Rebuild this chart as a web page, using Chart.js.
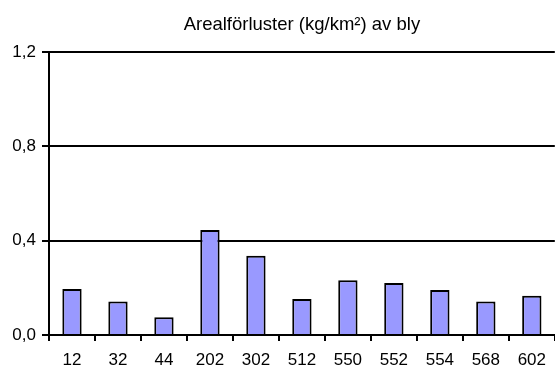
<!DOCTYPE html>
<html>
<head>
<meta charset="utf-8">
<script src="https://cdn.jsdelivr.net/npm/chart.js@4/dist/chart.umd.min.js"></script>
<style>
  html, body { margin: 0; padding: 0; background: #ffffff; }
  #wrap { width: 555px; height: 369px; }
</style>
</head>
<body>
<div id="wrap"><canvas id="c" width="555" height="369"></canvas></div>
<script>
// Areal losses of lead per catchment area
const stations = ['12', '32', '44', '202', '302', '512', '550', '552', '554', '568', '602'];
const leadLoss = [0.195, 0.142, 0.075, 0.445, 0.336, 0.153, 0.232, 0.220, 0.191, 0.142, 0.166];
const yTicks = [0, 0.4, 0.8, 1.2];
const titleText = 'Arealförluster (kg/km²) av bly';

const FONT = '"Liberation Sans", Arial, sans-serif';

// Title centred over the plot area
const titlePlugin = {
  id: 'topTitle',
  afterDraw(chart) {
    const ctx = chart.ctx;
    const a = chart.chartArea;
    ctx.save();
    ctx.fillStyle = '#000';
    ctx.font = '18.5px ' + FONT;
    ctx.textAlign = 'center';
    ctx.textBaseline = 'alphabetic';
    ctx.fillText(titleText, (a.left + a.right) / 2, 30);
    ctx.restore();
  }
};

new Chart(document.getElementById('c'), {
  type: 'bar',
  data: {
    labels: stations,
    datasets: [{
      data: leadLoss,
      backgroundColor: '#9999ff',
      borderColor: '#000000',
      borderWidth: 2,
      borderSkipped: 'bottom',
      categoryPercentage: 1,
      barPercentage: 0.42
    }]
  },
  options: {
    responsive: false,
    animation: false,
    devicePixelRatio: 1,
    layout: { padding: { top: 52, right: 0, left: 0, bottom: 0 } },
    plugins: { legend: { display: false }, tooltip: { enabled: false }, title: { display: false } },
    scales: {
      x: {
        offset: true,
        grid: { offset: true, drawOnChartArea: false, color: '#000', lineWidth: 2, tickLength: 6 },
        border: { display: true, color: '#000', width: 2 },
        ticks: { color: '#000', font: { family: FONT, size: 17 }, padding: 9, maxRotation: 0, autoSkip: false },
        afterFit(scale) { scale.height = 34; }
      },
      y: {
        min: 0,
        max: 1.2,
        afterBuildTicks(scale) { scale.ticks = yTicks.map(v => ({ value: v })); },
        grid: { color: '#000', lineWidth: 2, tickLength: 7 },
        border: { display: true, color: '#000', width: 2 },
        ticks: {
          color: '#000',
          font: { family: FONT, size: 17 },
          padding: 6,
          callback: v => v.toFixed(1).replace('.', ',')
        },
        afterFit(scale) { scale.width = 49; }
      }
    }
  },
  plugins: [titlePlugin]
});
</script>
</body>
</html>
